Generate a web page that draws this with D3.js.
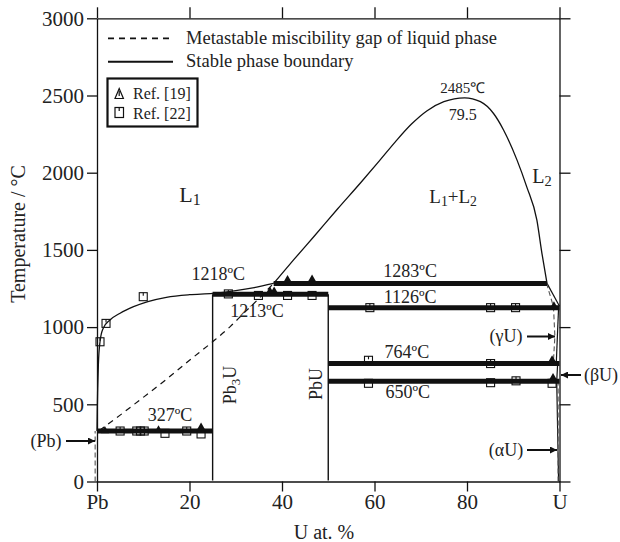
<!DOCTYPE html>
<html><head><meta charset="utf-8">
<script src="https://cdn.jsdelivr.net/npm/d3@7"></script>
<style>
body{margin:0;background:#fff}
text{font-family:"Liberation Serif","Times New Roman",serif;fill:#222}
</style>
</head><body>
<svg id="c" width="620" height="542"></svg>
<script>
// ---------------- data ----------------
const xTicks = [0, 20, 40, 60, 80, 100];
const xTickLabels = ["Pb", "20", "40", "60", "80", "U"];
const yTicks = [0, 500, 1000, 1500, 2000, 2500, 3000];

// stable liquidus on the Pb side (U at.%, °C)
const liquidusL1 = [[0,327],[0.05,450],[0.15,600],[0.3,760],[0.65,905],[1.3,990],[2.8,1046],[5,1090],[7.9,1132],[11,1165],[15,1193],[20,1210],[25,1218],[30,1236],[34,1256],[38.2,1283]];
// stable miscibility gap of the liquid
const dome = [[38.2,1283],[42.5,1435],[47,1590],[52,1765],[57,1935],[61,2075],[64.5,2200],[68,2315],[71.3,2400],[75,2460],[79.5,2485],[82.9,2460],[85.7,2385],[87.9,2277],[90.8,2083],[92.9,1910],[95.1,1694],[96.2,1478],[97.3,1283]];
// metastable miscibility gap (dashed)
const metastableL = [[0.5,330],[5,430],[10,545],[15,662],[20,785],[25,905],[28.8,1003],[31.7,1089],[35,1185],[38.2,1283]];
const metastableR = [[97.2,1283],[98.7,1132],[99.0,938],[98.7,787]];
const pbSolvusDash = [[-0.4,0],[-0.4,327]];
const uSolvusDash = [[99.7,0],[99.7,650]];
// stable boundaries near pure U
const liquidusL2 = [[97.3,1283],[100,1135]];
const gammaSolvus = [[99.8,1126],[99.3,764]];
const betaSolvus = [[99.6,764],[99.4,650],[99.8,0]];

// invariant reactions (thick horizontals)
const invT = [327, 1213, 1283, 1126, 764, 650];
const invFrom = [0, 25, 38.2, 50, 50, 50];
const invTo = [25, 50, 97.3, 100, 100, 100];

// intermetallic compounds
const compoundNames = ["Pb3U", "PbU"];
const compoundX = [25, 50];
const compoundTop = [1213, 1213];

// experimental points
const ref19 = [[1.7,322],[13.3,327],[22.5,345],[37.4,1225],[38.3,1225],[41.2,1300],[46.5,1303],[98.8,1130],[98.4,780],[98.6,665]];
const ref22 = [[0.65,905],[1.95,1024],[10,1197],[5,327],[8.6,327],[9.4,327],[10.2,327],[14.7,312],[19.4,327],[22.5,308],[28.4,1215],[34.9,1205],[41.2,1205],[46.5,1205],[59,1126],[85.1,1126],[90.5,1126],[58.7,785],[85.1,764],[58.7,636],[85.1,640],[90.6,652],[98.4,636]];

// temperature annotations
const tempText = ["327ºC","1218ºC","1213ºC","1283ºC","1126ºC","764ºC","650ºC"];
const tempP = [15.8, 26.2, 34.6, 67.7, 67.7, 67.0, 67.2];
const tempT = [392, 1305, 1066, 1325, 1153, 797, 544];

// ---------------- drawing ----------------
const svg = d3.select("#c");
const x = d3.scaleLinear().domain([0,100]).range([97,559.5]);
const y = d3.scaleLinear().domain([0,3000]).range([481.5,18.3]);
const FONT = '"Liberation Serif","Times New Roman",serif';

const defs = svg.append("defs");
defs.append("marker").attr("id","arr").attr("viewBox","0 0 10 10")
  .attr("refX",10).attr("refY",5).attr("markerWidth",10).attr("markerHeight",7)
  .attr("markerUnits","userSpaceOnUse").attr("orient","auto")
  .append("path").attr("d","M0,0L10,5L0,10z").attr("fill","#111");

function styleAxis(g, fs){
  g.attr("font-family", FONT).attr("font-size", fs);
  g.selectAll("path.domain").attr("stroke","#111").attr("stroke-width",1.3);
  g.selectAll(".tick line").attr("stroke","#111").attr("stroke-width",1.3);
  g.selectAll(".tick text").attr("font-family",FONT).style("font-family",FONT).style("font-size",fs+"px").attr("fill","#222");
}
const gB = svg.append("g").attr("transform",`translate(0,${y(0)})`)
  .call(d3.axisBottom(x).tickValues(xTicks).tickFormat((d,i)=>xTickLabels[i]).tickSize(10).tickSizeOuter(0).tickPadding(3));
styleAxis(gB,21);
const gT = svg.append("g").attr("transform",`translate(0,${y(3000)})`)
  .call(d3.axisTop(x).tickValues(xTicks).tickFormat("").tickSize(11).tickSizeOuter(0));
styleAxis(gT,21);
const gL = svg.append("g").attr("transform",`translate(${x(0)},0)`)
  .call(d3.axisLeft(y).tickValues(yTicks).tickFormat(d3.format("d")).tickSize(10).tickSizeOuter(0).tickPadding(3));
styleAxis(gL,21);
const gR = svg.append("g").attr("transform",`translate(${x(100)},0)`)
  .call(d3.axisRight(y).tickValues(yTicks).tickFormat("").tickSize(11).tickSizeOuter(0));
styleAxis(gR,21);

svg.append("text").attr("x",324).attr("y",539).attr("text-anchor","middle")
  .style("font-size","20px").text("U at. %");
svg.append("text").attr("transform","translate(25,234) rotate(-90)").attr("text-anchor","middle")
  .style("font-size","20px").text("Temperature / °C");

const lineLin = d3.line().x(d=>x(d[0])).y(d=>y(d[1]));
const lineMono = d3.line().x(d=>x(d[0])).y(d=>y(d[1])).curve(d3.curveMonotoneX);
const plot = svg.append("g");

// thin stable lines
plot.append("path").attr("d",lineMono(liquidusL1)).attr("fill","none").attr("stroke","#111").attr("stroke-width",1.3);
plot.append("path").attr("d",lineMono(dome)).attr("fill","none").attr("stroke","#111").attr("stroke-width",1.3);
[liquidusL2, gammaSolvus, betaSolvus].forEach(s=>
  plot.append("path").attr("d",lineLin(s)).attr("fill","none").attr("stroke","#111").attr("stroke-width",1.2));
// dashed metastable lines
plot.append("path").attr("d",lineMono(metastableL)).attr("fill","none").attr("stroke","#111").attr("stroke-width",1.2).attr("stroke-dasharray","6,5");
[metastableR, pbSolvusDash, uSolvusDash].forEach(s=>
  plot.append("path").attr("d",lineLin(s)).attr("fill","none").attr("stroke","#555").attr("stroke-width",1.1).attr("stroke-dasharray","5,3"));

// compound verticals
compoundX.forEach((p,i)=>{
  plot.append("line").attr("x1",x(p)).attr("x2",x(p)).attr("y1",y(compoundTop[i])).attr("y2",y(0)-1)
    .attr("stroke","#111").attr("stroke-width",1.4);
});
// invariant horizontals
invT.forEach((t,i)=>{
  plot.append("line").attr("x1",x(invFrom[i])).attr("x2",x(invTo[i])).attr("y1",y(t)).attr("y2",y(t))
    .attr("stroke","#111").attr("stroke-width",5);
});

// markers
const tri = d3.symbol().type(d3.symbolTriangle).size(30);
plot.selectAll("path.r19").data(ref19).join("path").attr("class","r19")
  .attr("transform",d=>`translate(${x(d[0])},${y(d[1])-1})`).attr("d",tri()).attr("fill","#111");
const sq = plot.selectAll("g.r22").data(ref22).join("g").attr("class","r22")
  .attr("transform",d=>`translate(${x(d[0])},${y(d[1])})`);
sq.append("rect").attr("x",-4).attr("y",-4).attr("width",8).attr("height",8)
  .attr("fill","none").attr("stroke","#111").attr("stroke-width",1.1);
sq.append("line").attr("x1",0).attr("x2",0).attr("y1",-4).attr("y2",-1).attr("stroke","#111").attr("stroke-width",1.1);

// temperature labels
tempText.forEach((t,i)=>{
  svg.append("text").attr("x",x(tempP[i])).attr("y",y(tempT[i])).attr("text-anchor","middle")
    .style("font-size","18px").text(t);
});
svg.append("text").attr("x",x(79.1)).attr("y",y(2517)).attr("text-anchor","middle").style("font-size","15px").text("2485℃");
svg.append("text").attr("x",x(79.1)).attr("y",y(2342)).attr("text-anchor","middle").style("font-size","16px").text("79.5");

// phase region labels
function subLabel(px, T, parts, fs){
  const t = svg.append("text").attr("x",x(px)).attr("y",y(T)).attr("text-anchor","middle").style("font-size",fs+"px");
  parts.forEach(p=>{
    if (p.sub) t.append("tspan").attr("dy",3).style("font-size",(fs*0.72)+"px").text(p.s);
    else t.append("tspan").attr("dy",p.after? -3:0).text(p.s);
  });
}
subLabel(20.1, 1810, [{s:"L"},{s:"1",sub:true}], 22);
subLabel(77.0, 1804, [{s:"L"},{s:"1",sub:true},{s:"+L",after:true},{s:"2",sub:true}], 19);
subLabel(96.2, 1934, [{s:"L"},{s:"2",sub:true}], 20);

// compound labels (vertical)
function vertLabel(cx, cy, parts){
  const t = svg.append("text").attr("transform",`translate(${cx},${cy}) rotate(-90)`)
    .attr("text-anchor","middle").attr("dy","0.35em").style("font-size","18px");
  parts.forEach(p=>{
    if (p.sub) t.append("tspan").attr("dy",4).style("font-size","13px").text(p.s);
    else t.append("tspan").attr("dy",p.after?-4:null).text(p.s);
  });
}
vertLabel(x(25)+17, 385, [{s:"Pb"},{s:"3",sub:true},{s:"U",after:true}]);
vertLabel(x(50)-13, 384, [{s:"PbU"}]);

// phase arrows
const arrows = [
  {t:"(Pb)", tx:46, ty:447, x1:66, y1:441, x2:95, y2:441},
  {t:"(γU)", tx:506, ty:342, x1:527, y1:336.5, x2:555, y2:336.5},
  {t:"(βU)", tx:601, ty:381, x1:581, y1:375, x2:561, y2:375},
  {t:"(αU)", tx:506, ty:456, x1:527, y1:450, x2:557, y2:450}
];
arrows.forEach(a=>{
  svg.append("line").attr("x1",a.x1).attr("y1",a.y1).attr("x2",a.x2).attr("y2",a.y2)
    .attr("stroke","#111").attr("stroke-width",2).attr("marker-end","url(#arr)");
  svg.append("text").attr("x",a.tx).attr("y",a.ty).attr("text-anchor","middle").style("font-size","18px").text(a.t);
});

// legend
const lg = svg.append("g");
lg.append("line").attr("x1",108).attr("x2",173).attr("y1",38.3).attr("y2",38.3)
  .attr("stroke","#111").attr("stroke-width",1.8).attr("stroke-dasharray","6,5");
lg.append("line").attr("x1",108).attr("x2",173).attr("y1",61.7).attr("y2",61.7)
  .attr("stroke","#111").attr("stroke-width",2);
lg.append("text").attr("x",186).attr("y",43.5).style("font-size","18.5px").text("Metastable miscibility gap of liquid phase");
lg.append("text").attr("x",186).attr("y",67).style("font-size","18.5px").text("Stable phase boundary");
lg.append("rect").attr("x",107.5).attr("y",78.5).attr("width",90).attr("height",48)
  .attr("fill","none").attr("stroke","#111").attr("stroke-width",2.2);
lg.append("path").attr("d","M115,98.5L119.2,88.5L123.4,98.5Z").attr("fill","none").attr("stroke","#111").attr("stroke-width",1.2);
lg.append("line").attr("x1",119.2).attr("x2",119.2).attr("y1",91).attr("y2",96).attr("stroke","#111").attr("stroke-width",1.2);
lg.append("rect").attr("x",115).attr("y",107.5).attr("width",8.5).attr("height",10)
  .attr("fill","none").attr("stroke","#111").attr("stroke-width",1.2);
lg.append("line").attr("x1",119.2).attr("x2",119.2).attr("y1",107.5).attr("y2",111).attr("stroke","#111").attr("stroke-width",1.2);
lg.append("text").attr("x",133).attr("y",99).style("font-size","16px").text("Ref. [19]");
lg.append("text").attr("x",133).attr("y",119).style("font-size","16px").text("Ref. [22]");
</script>
</body></html>
